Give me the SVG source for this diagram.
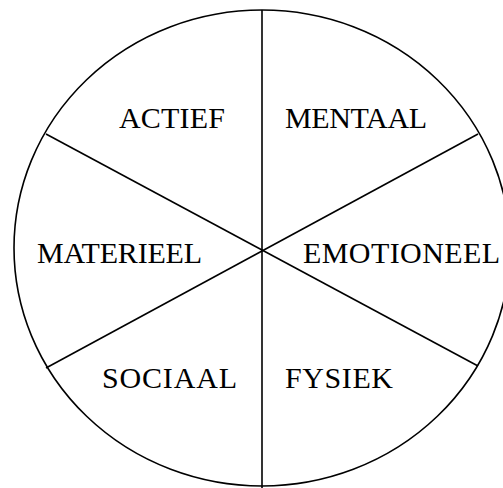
<svg xmlns="http://www.w3.org/2000/svg" width="503" height="488" viewBox="0 0 503 488">
<style>
.ln{stroke:#000;stroke-width:1.6;fill:none}
.lb{font-family:"Liberation Serif","Times New Roman",serif;font-size:30px;fill:#000}
</style>
<rect width="503" height="488" fill="#fff"/>
<g id="wheel">
<ellipse class="ln" cx="262" cy="248" rx="248" ry="238"/>
</g>
<g id="connectors">
<line class="ln" x1="262" y1="10" x2="262" y2="488" stroke-width="2"/>
<line class="ln" x1="46" y1="134" x2="478" y2="366"/>
<line class="ln" x1="46" y1="368" x2="478" y2="134"/>
</g>
<g id="actief"><text class="lb" x="119" y="128" textLength="106">ACTIEF</text></g>
<g id="mentaal"><text class="lb" x="285" y="128" textLength="142">MENTAAL</text></g>
<g id="materieel"><text class="lb" x="37" y="263" textLength="165">MATERIEEL</text></g>
<g id="emotioneel"><text class="lb" x="303" y="263" textLength="197">EMOTIONEEL</text></g>
<g id="sociaal"><text class="lb" x="102" y="388" textLength="135">SOCIAAL</text></g>
<g id="fysiek"><text class="lb" x="285" y="388" textLength="108">FYSIEK</text></g>
</svg>
